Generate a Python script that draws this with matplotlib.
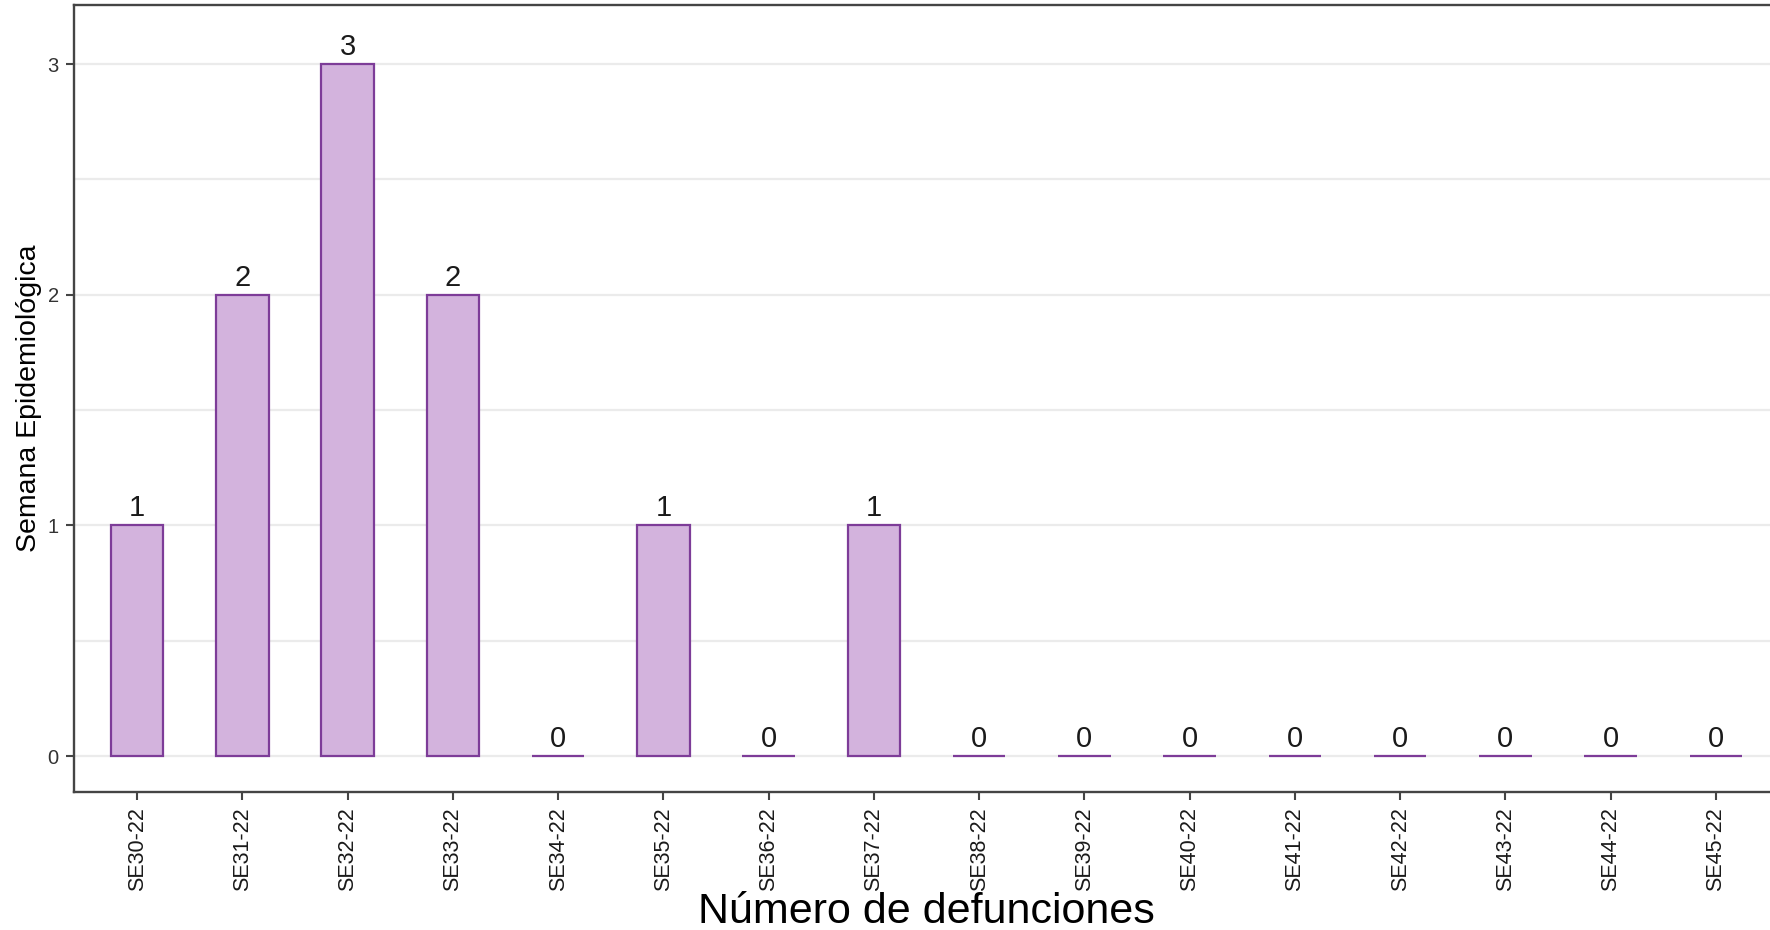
import matplotlib
matplotlib.use("Agg")
import matplotlib.pyplot as plt
from matplotlib.ticker import MultipleLocator, FixedLocator

plt.rcParams['font.family'] = ['Liberation Sans', 'DejaVu Sans']

semanas = ["SE30-22", "SE31-22", "SE32-22", "SE33-22", "SE34-22", "SE35-22",
           "SE36-22", "SE37-22", "SE38-22", "SE39-22", "SE40-22", "SE41-22",
           "SE42-22", "SE43-22", "SE44-22", "SE45-22"]
defunciones = [1, 2, 3, 2, 0, 1, 0, 1, 0, 0, 0, 0, 0, 0, 0, 0]
y_ticks = [0, 1, 2, 3]
x_title = "Número de defunciones"
y_title = "Semana Epidemiológica"

W, H = 1770, 930
fig = plt.figure(figsize=(W / 100, H / 100), dpi=100)
ax = fig.add_axes([74 / W, (H - 792) / H, (1779 - 74) / W, (792 - 5) / H])

fill_c = "#D3B3DD"
edge_c = "#7D3C98"
x = list(range(len(semanas)))
ax.bar(x, defunciones, width=0.5, color=fill_c, edgecolor=edge_c,
       linewidth=1.6, zorder=3)

for xi, v in zip(x, defunciones):
    ax.annotate(str(v), (xi, v), xytext=(0, 6.5), textcoords="offset points",
                ha="center", va="baseline", fontsize=21, color="#1a1a1a",
                zorder=4)

ax.set_xlim(-0.6, len(semanas) - 1 + 0.6)
ax.set_ylim(-0.156, 3.256)

ax.yaxis.set_major_locator(FixedLocator(y_ticks))
ax.yaxis.set_minor_locator(MultipleLocator(0.5))
ax.grid(True, axis="y", which="major", color="#EBEBEB", linewidth=1.6, zorder=0)
ax.grid(True, axis="y", which="minor", color="#EBEBEB", linewidth=1.6, zorder=0)
ax.grid(False, axis="x")
ax.tick_params(axis="y", which="minor", length=0)

ax.set_xticks(x)
ax.set_xticklabels(semanas, rotation=90, fontsize=15.5, color="#1a1a1a")
ax.set_yticklabels([str(t) for t in y_ticks], fontsize=14.5, color="#333333")
ax.tick_params(axis="both", which="major", length=6, width=1.5,
               color="#444444", pad=5)

for s in ax.spines.values():
    s.set_color("#444444")
    s.set_linewidth(1.7)

ax.set_xlabel(x_title, fontsize=31, color="black", va="baseline")
ax.xaxis.set_label_coords(0.5, (792 - 923) / 787)
ax.set_ylabel(y_title, fontsize=20.5, color="black", va="center")
ax.yaxis.set_label_coords((29 - 74) / 1705, 0.5)

fig.savefig("out.png", dpi=100)
